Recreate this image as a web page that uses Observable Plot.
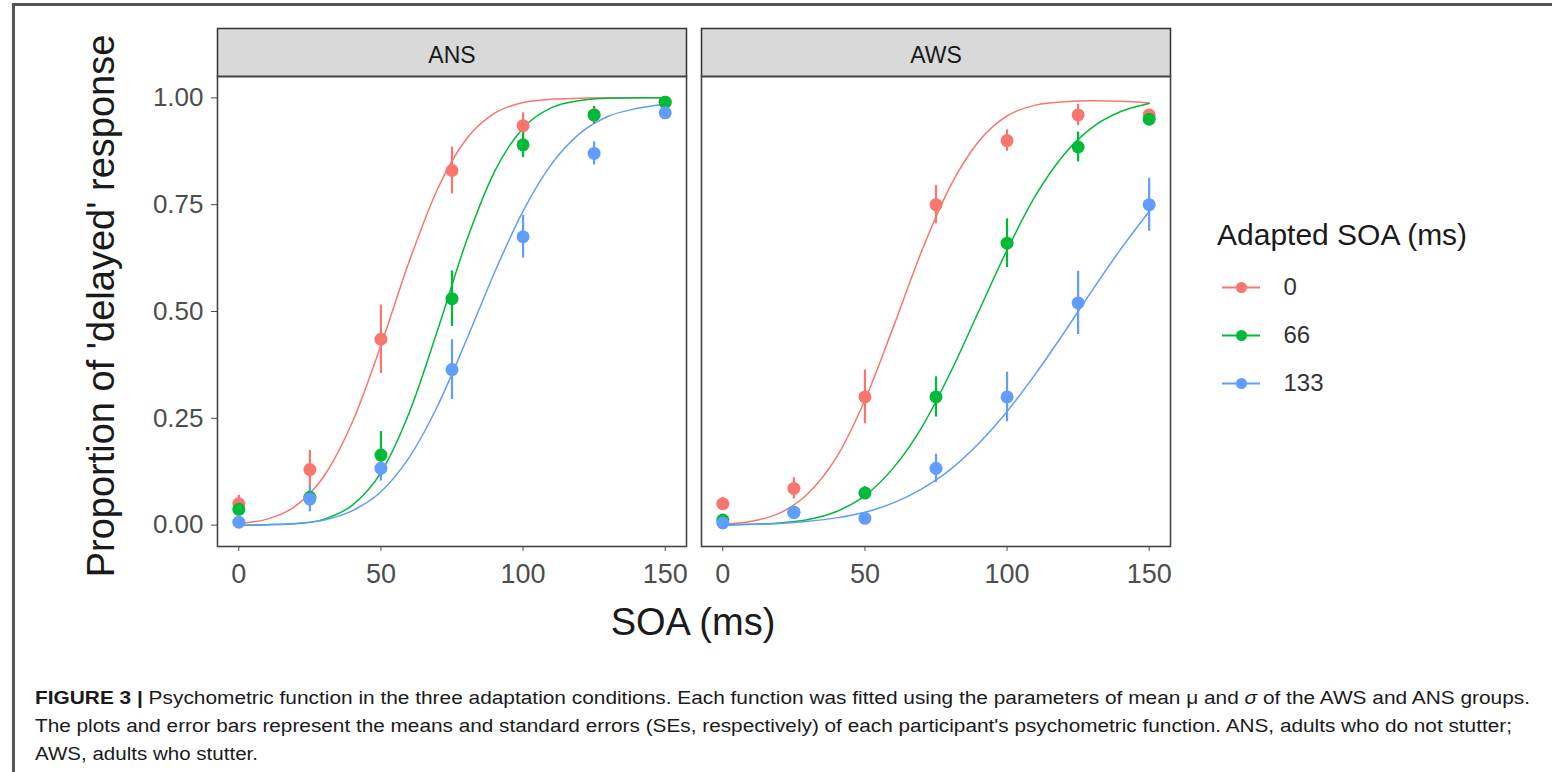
<!DOCTYPE html>
<html>
<head>
<meta charset="utf-8">
<script src="https://cdn.jsdelivr.net/npm/d3@7"></script>
<script src="https://cdn.jsdelivr.net/npm/@observablehq/plot@0.6"></script>
<style>
  html, body { margin: 0; padding: 0; background: #fff; }
  body { width: 1552px; height: 772px; position: relative; overflow: hidden;
         font-family: "Liberation Sans", Arial, Helvetica, sans-serif; }
  #border { position: absolute; left: 12px; top: 3px; width: 1600px; height: 800px;
            border-left: 3px solid #555; border-top: 3px solid #555; }
  #chart { position: absolute; left: 0; top: 0; }
  #legend { position: absolute; left: 1210px; top: 262px; }
  .ytitle { position: absolute; left: 101px; top: 306px; transform: translate(-50%, -50%) rotate(-90deg);
            font-size: 38px; color: #1a1a1a; white-space: nowrap; }
  .xtitle { position: absolute; left: 693px; top: 622px; transform: translate(-50%, -50%);
            font-size: 38px; color: #1a1a1a; white-space: nowrap; }
  .ltitle { position: absolute; left: 1217px; top: 235px; transform: translateY(-50%);
            font-size: 30px; color: #1a1a1a; white-space: nowrap; }
  .caption { position: absolute; left: 35px; top: 0; color: #1a1a1a;
             font-family: "Liberation Sans Narrow", "Liberation Sans", Arial, sans-serif; font-size: 18px; line-height: 20px; }
  .caption .line { position: absolute; left: 0; white-space: nowrap; transform-origin: 0 50%; display: inline-block; }
</style>
</head>
<body>
<div id="border"></div>
<div id="chart"></div>
<div class="ytitle">Proportion of 'delayed' response</div>
<div class="xtitle">SOA (ms)</div>
<div class="ltitle">Adapted SOA (ms)</div>
<div id="legend"></div>
<div class="caption">
  <span class="line" data-w="1495" style="top:688px"><b>FIGURE 3 |</b> Psychometric function in the three adaptation conditions. Each function was fitted using the parameters of mean μ and <i>σ</i> of the AWS and ANS groups.</span>
  <span class="line" data-w="1477" style="top:716px">The plots and error bars represent the means and standard errors (SEs, respectively) of each participant's psychometric function. ANS, adults who do not stutter;</span>
  <span class="line" data-w="223" style="top:744px">AWS, adults who stutter.</span>
</div>
<script>
// Groups (facets) and adaptation conditions (colour series)
const groups = ["ANS", "AWS"];
const adapted = ["0", "66", "133"];
const palette = ["#F8766D", "#00BA38", "#619CFF"];

// Tested SOAs (ms) and axis ticks
const soa = [0, 25, 50, 75, 100, 125, 150];
const xTicks = [0, 50, 100, 150];
const yTicks = [0, 0.25, 0.5, 0.75, 1];

// Mean proportion of "delayed" responses and SE, ANS group
const ansMean0   = [0.050, 0.130, 0.435, 0.830, 0.935, 0.960, 0.990];
const ansSe0     = [0.020, 0.045, 0.080, 0.055, 0.030, 0.020, 0.005];
const ansMean66  = [0.037, 0.065, 0.164, 0.530, 0.890, 0.960, 0.990];
const ansSe66    = [0.015, 0.020, 0.055, 0.065, 0.030, 0.020, 0.005];
const ansMean133 = [0.007, 0.061, 0.133, 0.364, 0.675, 0.870, 0.965];
const ansSe133   = [0.010, 0.030, 0.030, 0.070, 0.050, 0.027, 0.010];

// Mean proportion of "delayed" responses and SE, AWS group
const awsMean0   = [0.050, 0.086, 0.300, 0.750, 0.900, 0.960, 0.960];
const awsSe0     = [0.015, 0.025, 0.063, 0.045, 0.025, 0.025, 0.010];
const awsMean66  = [0.012, 0.030, 0.075, 0.300, 0.660, 0.885, 0.950];
const awsSe66    = [0.010, 0.010, 0.015, 0.047, 0.057, 0.035, 0.015];
const awsMean133 = [0.005, 0.030, 0.016, 0.133, 0.300, 0.520, 0.750];
const awsSe133   = [0.005, 0.010, 0.010, 0.033, 0.058, 0.074, 0.062];

// Fitted psychometric functions, sampled every 10 ms
const fitSoa = [0, 10, 20, 30, 40, 50, 60, 70, 80, 90, 100, 110, 120, 130, 140, 150];
const ansFit0   = [0.004, 0.014, 0.045, 0.115, 0.242, 0.421, 0.618, 0.788, 0.903, 0.964, 0.989, 0.997, 0.999, 1, 1, 1];
const ansFit66  = [0.000, 0.001, 0.003, 0.014, 0.047, 0.123, 0.264, 0.458, 0.663, 0.828, 0.929, 0.977, 0.994, 0.999, 1, 1];
const ansFit133 = [0.000, 0.001, 0.004, 0.012, 0.034, 0.078, 0.159, 0.280, 0.432, 0.592, 0.735, 0.845, 0.917, 0.957, 0.975, 0.985];
const awsFit0   = [0.002, 0.009, 0.028, 0.074, 0.159, 0.293, 0.464, 0.642, 0.793, 0.898, 0.958, 0.983, 0.991, 0.993, 0.992, 0.988];
const awsFit66  = [0.000, 0.002, 0.005, 0.013, 0.032, 0.069, 0.134, 0.229, 0.356, 0.500, 0.644, 0.771, 0.867, 0.931, 0.968, 0.987];
const awsFit133 = [0.001, 0.002, 0.004, 0.009, 0.017, 0.030, 0.052, 0.085, 0.130, 0.191, 0.266, 0.354, 0.450, 0.550, 0.646, 0.734];

// Long-format tables for the marks
const meanSeries = [
  ["ANS", "0", ansMean0, ansSe0], ["ANS", "66", ansMean66, ansSe66], ["ANS", "133", ansMean133, ansSe133],
  ["AWS", "0", awsMean0, awsSe0], ["AWS", "66", awsMean66, awsSe66], ["AWS", "133", awsMean133, awsSe133]
];
const fitSeries = [
  ["ANS", "0", ansFit0], ["ANS", "66", ansFit66], ["ANS", "133", ansFit133],
  ["AWS", "0", awsFit0], ["AWS", "66", awsFit66], ["AWS", "133", awsFit133]
];
const points = meanSeries.flatMap(([group, cond, m, se]) =>
  soa.map((s, i) => ({group, cond, soa: s, mean: m[i], se: se[i]})));
const fits = fitSeries.flatMap(([group, cond, p]) =>
  fitSoa.map((s, i) => ({group, cond, soa: s, p: p[i]})));

const chart = Plot.plot({
  width: 1180,
  height: 650,
  marginLeft: 217,
  marginRight: 10,
  marginTop: 76,
  marginBottom: 104,
  style: {fontFamily: "Liberation Sans, Arial, Helvetica, sans-serif", color: "#333", background: "transparent"},
  fx: {domain: groups, paddingInner: 0.031, paddingOuter: 0},
  x: {domain: [-7.5, 157.5]},
  y: {domain: [-0.05, 1.05]},
  color: {domain: adapted, range: palette},
  marks: [
    // facet strip
    Plot.frame({fill: "#d9d9d9", stroke: "#333", strokeWidth: 1.5, insetTop: -48, insetBottom: 470}),
    // panel border
    Plot.frame({stroke: "#444", strokeWidth: 1.6}),
    Plot.axisFx({anchor: "top", tickSize: 0, tickPadding: 14, fontSize: 23, color: "#1a1a1a", label: null}),
    Plot.axisY(yTicks, {tickSize: 6, tickPadding: 8, fontSize: 26, color: "#4d4d4d", tickFormat: d3.format(".2f"), label: null}),
    Plot.axisX(xTicks, {tickSize: 5, tickPadding: 12, fontSize: 27, color: "#4d4d4d", label: null}),
    Plot.line(fits, {x: "soa", y: "p", z: "cond", stroke: "cond", fx: "group", strokeWidth: 1.5, curve: "monotone-x"}),
    Plot.ruleX(points, {x: "soa", y1: d => d.mean - d.se, y2: d => d.mean + d.se, stroke: "cond", fx: "group", strokeWidth: 2.2}),
    Plot.dot(points, {x: "soa", y: "mean", fill: "cond", fx: "group", r: 6.5})
  ]
});
document.getElementById("chart").appendChild(chart);

// Legend: line + point key for each adaptation condition
const legend = Plot.plot({
  width: 140,
  height: 150,
  margin: 0,
  style: {fontFamily: "Liberation Sans, Arial, Helvetica, sans-serif", background: "transparent"},
  x: {domain: [0, 1], range: [12, 50], axis: null},
  y: {type: "point", domain: adapted, range: [25, 121], padding: 0, axis: null},
  color: {domain: adapted, range: palette},
  marks: [
    Plot.ruleY(adapted, {y: d => d, x1: 0, x2: 1, stroke: d => d, strokeWidth: 2}),
    Plot.dot(adapted, {x: 0.5, y: d => d, fill: d => d, r: 5.5}),
    Plot.text(adapted, {x: 1, y: d => d, text: d => d, textAnchor: "start", dx: 23, fontSize: 24, fill: "#333"})
  ]
});
document.getElementById("legend").appendChild(legend);

// Condense caption lines to the column width
document.querySelectorAll(".caption .line").forEach(el => {
  const w = el.getBoundingClientRect().width;
  el.style.transform = `scaleX(${(+el.dataset.w / w).toFixed(4)})`;
});
</script>
</body>
</html>
